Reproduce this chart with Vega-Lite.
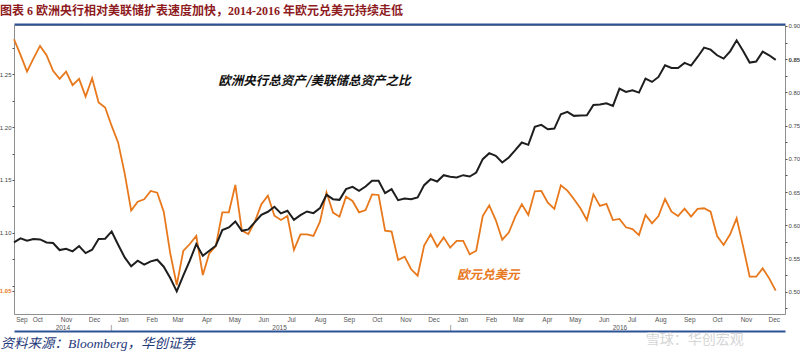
{
  "$schema": "https://vega.github.io/schema/vega-lite/v6.json",
  "width": 771,
  "height": 289,
  "autosize": {"type": "none"},
  "padding": {"left": 14, "top": 25, "right": 15, "bottom": 39},
  "background": "white",
  "title": {
    "text": "图表 6 欧洲央行相对美联储扩表速度加快，2014-2016 年欧元兑美元持续走低",
    "anchor": "start",
    "frame": "group",
    "dx": -14,
    "offset": 5,
    "font": "Liberation Serif, Noto Sans CJK SC",
    "fontSize": 12,
    "fontWeight": "bold",
    "color": "#8E1B1E"
  },
  "datasets": {
    "fx": [
      {"date": "2014-09-19", "eurusd": 1.2831, "ratio": 0.5742},
      {"date": "2014-09-26", "eurusd": 1.2683, "ratio": 0.5802},
      {"date": "2014-10-03", "eurusd": 1.2525, "ratio": 0.5767},
      {"date": "2014-10-10", "eurusd": 1.2651, "ratio": 0.5792},
      {"date": "2014-10-17", "eurusd": 1.2768, "ratio": 0.5787},
      {"date": "2014-10-24", "eurusd": 1.2680, "ratio": 0.5742},
      {"date": "2014-10-31", "eurusd": 1.2532, "ratio": 0.5732},
      {"date": "2014-11-07", "eurusd": 1.2456, "ratio": 0.5627},
      {"date": "2014-11-14", "eurusd": 1.2525, "ratio": 0.5647},
      {"date": "2014-11-21", "eurusd": 1.2396, "ratio": 0.5607},
      {"date": "2014-11-28", "eurusd": 1.2456, "ratio": 0.5687},
      {"date": "2014-12-05", "eurusd": 1.2289, "ratio": 0.5581},
      {"date": "2014-12-12", "eurusd": 1.2462, "ratio": 0.5632},
      {"date": "2014-12-19", "eurusd": 1.2232, "ratio": 0.5792},
      {"date": "2014-12-26", "eurusd": 1.2185, "ratio": 0.5797},
      {"date": "2015-01-02", "eurusd": 1.2011, "ratio": 0.5907},
      {"date": "2015-01-09", "eurusd": 1.1853, "ratio": 0.5707},
      {"date": "2015-01-16", "eurusd": 1.1563, "ratio": 0.5516},
      {"date": "2015-01-23", "eurusd": 1.1210, "ratio": 0.5381},
      {"date": "2015-01-30", "eurusd": 1.1295, "ratio": 0.5466},
      {"date": "2015-02-06", "eurusd": 1.1317, "ratio": 0.5406},
      {"date": "2015-02-13", "eurusd": 1.1396, "ratio": 0.5456},
      {"date": "2015-02-20", "eurusd": 1.1380, "ratio": 0.5481},
      {"date": "2015-02-27", "eurusd": 1.1200, "ratio": 0.5376},
      {"date": "2015-03-06", "eurusd": 1.0806, "ratio": 0.5206},
      {"date": "2015-03-13", "eurusd": 1.0506, "ratio": 0.5005},
      {"date": "2015-03-20", "eurusd": 1.0828, "ratio": 0.5241},
      {"date": "2015-03-27", "eurusd": 1.0894, "ratio": 0.5466},
      {"date": "2015-04-03", "eurusd": 1.0970, "ratio": 0.5717},
      {"date": "2015-04-10", "eurusd": 1.0601, "ratio": 0.5541},
      {"date": "2015-04-17", "eurusd": 1.0806, "ratio": 0.5617},
      {"date": "2015-04-24", "eurusd": 1.0875, "ratio": 0.5692},
      {"date": "2015-05-01", "eurusd": 1.1194, "ratio": 0.5927},
      {"date": "2015-05-08", "eurusd": 1.1194, "ratio": 0.5967},
      {"date": "2015-05-15", "eurusd": 1.1453, "ratio": 0.6058},
      {"date": "2015-05-22", "eurusd": 1.1021, "ratio": 0.5917},
      {"date": "2015-05-29", "eurusd": 1.0989, "ratio": 0.5937},
      {"date": "2015-06-05", "eurusd": 1.1106, "ratio": 0.6048},
      {"date": "2015-06-12", "eurusd": 1.1270, "ratio": 0.6158},
      {"date": "2015-06-19", "eurusd": 1.1352, "ratio": 0.6203},
      {"date": "2015-06-26", "eurusd": 1.1162, "ratio": 0.6278},
      {"date": "2015-07-03", "eurusd": 1.1121, "ratio": 0.6178},
      {"date": "2015-07-10", "eurusd": 1.1159, "ratio": 0.6218},
      {"date": "2015-07-17", "eurusd": 1.0838, "ratio": 0.6083},
      {"date": "2015-07-24", "eurusd": 1.0986, "ratio": 0.6153},
      {"date": "2015-07-31", "eurusd": 1.0986, "ratio": 0.6208},
      {"date": "2015-08-07", "eurusd": 1.0970, "ratio": 0.6183},
      {"date": "2015-08-14", "eurusd": 1.1106, "ratio": 0.6258},
      {"date": "2015-08-21", "eurusd": 1.1383, "ratio": 0.6459},
      {"date": "2015-08-28", "eurusd": 1.1191, "ratio": 0.6393},
      {"date": "2015-09-04", "eurusd": 1.1153, "ratio": 0.6383},
      {"date": "2015-09-11", "eurusd": 1.1342, "ratio": 0.6544},
      {"date": "2015-09-18", "eurusd": 1.1301, "ratio": 0.6579},
      {"date": "2015-09-25", "eurusd": 1.1194, "ratio": 0.6519},
      {"date": "2015-10-02", "eurusd": 1.1216, "ratio": 0.6584},
      {"date": "2015-10-09", "eurusd": 1.1364, "ratio": 0.6669},
      {"date": "2015-10-16", "eurusd": 1.1358, "ratio": 0.6669},
      {"date": "2015-10-23", "eurusd": 1.1021, "ratio": 0.6484},
      {"date": "2015-10-30", "eurusd": 1.1011, "ratio": 0.6544},
      {"date": "2015-11-06", "eurusd": 1.0743, "ratio": 0.6378},
      {"date": "2015-11-13", "eurusd": 1.0774, "ratio": 0.6404},
      {"date": "2015-11-20", "eurusd": 1.0655, "ratio": 0.6393},
      {"date": "2015-11-27", "eurusd": 1.0595, "ratio": 0.6419},
      {"date": "2015-12-04", "eurusd": 1.0879, "ratio": 0.6604},
      {"date": "2015-12-11", "eurusd": 1.0986, "ratio": 0.6694},
      {"date": "2015-12-18", "eurusd": 1.0869, "ratio": 0.6659},
      {"date": "2015-12-25", "eurusd": 1.0957, "ratio": 0.6754},
      {"date": "2016-01-01", "eurusd": 1.0860, "ratio": 0.6729},
      {"date": "2016-01-08", "eurusd": 1.0923, "ratio": 0.6719},
      {"date": "2016-01-15", "eurusd": 1.0923, "ratio": 0.6754},
      {"date": "2016-01-22", "eurusd": 1.0797, "ratio": 0.6734},
      {"date": "2016-01-29", "eurusd": 1.0831, "ratio": 0.6794},
      {"date": "2016-02-05", "eurusd": 1.1159, "ratio": 0.6995},
      {"date": "2016-02-12", "eurusd": 1.1260, "ratio": 0.7085},
      {"date": "2016-02-19", "eurusd": 1.1121, "ratio": 0.7045},
      {"date": "2016-02-26", "eurusd": 1.0935, "ratio": 0.6945},
      {"date": "2016-03-04", "eurusd": 1.1002, "ratio": 0.7020},
      {"date": "2016-03-11", "eurusd": 1.1153, "ratio": 0.7130},
      {"date": "2016-03-18", "eurusd": 1.1270, "ratio": 0.7246},
      {"date": "2016-03-25", "eurusd": 1.1169, "ratio": 0.7211},
      {"date": "2016-04-01", "eurusd": 1.1393, "ratio": 0.7481},
      {"date": "2016-04-08", "eurusd": 1.1396, "ratio": 0.7511},
      {"date": "2016-04-15", "eurusd": 1.1285, "ratio": 0.7446},
      {"date": "2016-04-22", "eurusd": 1.1226, "ratio": 0.7456},
      {"date": "2016-04-29", "eurusd": 1.1450, "ratio": 0.7672},
      {"date": "2016-05-06", "eurusd": 1.1399, "ratio": 0.7707},
      {"date": "2016-05-13", "eurusd": 1.1320, "ratio": 0.7647},
      {"date": "2016-05-20", "eurusd": 1.1232, "ratio": 0.7652},
      {"date": "2016-05-27", "eurusd": 1.1121, "ratio": 0.7657},
      {"date": "2016-06-03", "eurusd": 1.1364, "ratio": 0.7812},
      {"date": "2016-06-10", "eurusd": 1.1254, "ratio": 0.7817},
      {"date": "2016-06-17", "eurusd": 1.1273, "ratio": 0.7837},
      {"date": "2016-06-24", "eurusd": 1.1121, "ratio": 0.7797},
      {"date": "2016-07-01", "eurusd": 1.1131, "ratio": 0.8058},
      {"date": "2016-07-08", "eurusd": 1.1052, "ratio": 0.8008},
      {"date": "2016-07-15", "eurusd": 1.1036, "ratio": 0.8033},
      {"date": "2016-07-22", "eurusd": 1.0979, "ratio": 0.7997},
      {"date": "2016-07-29", "eurusd": 1.1169, "ratio": 0.8208},
      {"date": "2016-08-05", "eurusd": 1.1090, "ratio": 0.8158},
      {"date": "2016-08-12", "eurusd": 1.1159, "ratio": 0.8233},
      {"date": "2016-08-19", "eurusd": 1.1320, "ratio": 0.8409},
      {"date": "2016-08-26", "eurusd": 1.1200, "ratio": 0.8368},
      {"date": "2016-09-02", "eurusd": 1.1159, "ratio": 0.8368},
      {"date": "2016-09-09", "eurusd": 1.1229, "ratio": 0.8444},
      {"date": "2016-09-16", "eurusd": 1.1153, "ratio": 0.8404},
      {"date": "2016-09-23", "eurusd": 1.1226, "ratio": 0.8534},
      {"date": "2016-09-30", "eurusd": 1.1232, "ratio": 0.8674},
      {"date": "2016-10-07", "eurusd": 1.1200, "ratio": 0.8644},
      {"date": "2016-10-14", "eurusd": 1.0970, "ratio": 0.8559},
      {"date": "2016-10-21", "eurusd": 1.0885, "ratio": 0.8509},
      {"date": "2016-10-28", "eurusd": 1.0986, "ratio": 0.8619},
      {"date": "2016-11-04", "eurusd": 1.1137, "ratio": 0.8784},
      {"date": "2016-11-11", "eurusd": 1.0869, "ratio": 0.8624},
      {"date": "2016-11-18", "eurusd": 1.0585, "ratio": 0.8449},
      {"date": "2016-11-25", "eurusd": 1.0585, "ratio": 0.8464},
      {"date": "2016-12-02", "eurusd": 1.0664, "ratio": 0.8614},
      {"date": "2016-12-09", "eurusd": 1.0569, "ratio": 0.8559},
      {"date": "2016-12-16", "eurusd": 1.0453, "ratio": 0.8489}
    ],
    "noteFx": [
      {"date": "2016-02-11", "eurusd": 1.0601, "label": "欧元兑美元"}
    ],
    "noteRatio": [
      {"date": "2015-08-08", "ratio": 0.8172, "label": "欧洲央行总资产/美联储总资产之比"}
    ],
    "watermark": [
      {"date": "2016-09-20", "eurusd": 0.9982, "label": "雪球：华创宏观"}
    ]
  },
  "layer": [
    {
      "data": {"name": "fx"},
      "encoding": {
        "x": {
          "field": "date",
          "type": "temporal",
          "scale": {"domain": [{"year": 2014, "month": 9, "date": 19, "utc": true}, {"year": 2016, "month": 12, "date": 26, "utc": true}]},
          "axis": {
            "orient": "bottom",
            "offset": 17,
            "domainColor": "#2E5395",
            "domainWidth": 2,
            "ticks": false,
            "grid": false,
            "values": [
              {"year": 2014, "month": 9, "date": 27, "utc": true},
              {"year": 2014, "month": 10, "date": 14, "utc": true},
              {"year": 2014, "month": 11, "date": 14, "utc": true},
              {"year": 2014, "month": 12, "date": 14, "utc": true},
              {"year": 2015, "month": 1, "date": 14, "utc": true},
              {"year": 2015, "month": 2, "date": 14, "utc": true},
              {"year": 2015, "month": 3, "date": 14, "utc": true},
              {"year": 2015, "month": 4, "date": 14, "utc": true},
              {"year": 2015, "month": 5, "date": 14, "utc": true},
              {"year": 2015, "month": 6, "date": 14, "utc": true},
              {"year": 2015, "month": 7, "date": 14, "utc": true},
              {"year": 2015, "month": 8, "date": 14, "utc": true},
              {"year": 2015, "month": 9, "date": 14, "utc": true},
              {"year": 2015, "month": 10, "date": 14, "utc": true},
              {"year": 2015, "month": 11, "date": 14, "utc": true},
              {"year": 2015, "month": 12, "date": 14, "utc": true},
              {"year": 2016, "month": 1, "date": 14, "utc": true},
              {"year": 2016, "month": 2, "date": 14, "utc": true},
              {"year": 2016, "month": 3, "date": 14, "utc": true},
              {"year": 2016, "month": 4, "date": 14, "utc": true},
              {"year": 2016, "month": 5, "date": 14, "utc": true},
              {"year": 2016, "month": 6, "date": 14, "utc": true},
              {"year": 2016, "month": 7, "date": 14, "utc": true},
              {"year": 2016, "month": 8, "date": 14, "utc": true},
              {"year": 2016, "month": 9, "date": 14, "utc": true},
              {"year": 2016, "month": 10, "date": 14, "utc": true},
              {"year": 2016, "month": 11, "date": 14, "utc": true},
              {"year": 2016, "month": 12, "date": 14, "utc": true},
              {"year": 2014, "month": 11, "date": 10, "utc": true},
              {"year": 2015, "month": 7, "date": 1, "utc": true},
              {"year": 2016, "month": 7, "date": 1, "utc": true},
              {"year": 2015, "month": 1, "date": 1, "utc": true},
              {"year": 2016, "month": 1, "date": 1, "utc": true}
            ],
            "labelExpr": "(utcdate(datum.value) == 14 || utcdate(datum.value) == 27) ? utcFormat(datum.value, '%b') : (utcmonth(datum.value) == 0 ? ['', '|'] : ['', utcFormat(datum.value, '%Y')])",
            "labelPadding": -15,
            "labelBaseline": "top",
            "labelAlign": "center",
            "labelFontSize": 6.5,
            "labelLineHeight": 8,
            "labelColor": "#555555",
            "labelOverlap": false,
            "labelFlush": false,
            "title": "资料来源：Bloomberg，华创证券",
            "titleAnchor": "start",
            "titleAlign": "left",
            "titleX": -14,
            "titleY": 16,
            "titleBaseline": "alphabetic",
            "titleFont": "Liberation Serif, Noto Sans CJK SC",
            "titleFontSize": 13.5,
            "titleFontStyle": "italic",
            "titleFontWeight": "normal",
            "titleColor": "#1F3A7A"
          }
        },
        "y": {
          "field": "eurusd",
          "type": "quantitative",
          "scale": {"domain": [1.0232, 1.2966], "nice": false, "zero": false},
          "axis": {
            "orient": "left",
            "title": null,
            "grid": false,
            "domain": false,
            "values": [1.0453, 1.05, 1.075, 1.1, 1.125, 1.15, 1.175, 1.2, 1.225, 1.25, 1.275],
            "labelExpr": "datum.value < 1.048 ? '1.05' : ((abs(datum.value * 20 - round(datum.value * 20)) < 0.01 && datum.value > 1.06) ? format(datum.value, '.2f') : '')",
            "tickSize": 2,
            "tickColor": "#555555",
            "labelPadding": 1,
            "labelFontSize": 6,
            "labelColor": {"condition": {"test": "datum.value < 1.048", "value": "#E8781C"}, "value": "#444444"},
            "labelFontWeight": {"condition": {"test": "datum.value < 1.048", "value": "bold"}, "value": "normal"},
            "labelOverlap": false
          }
        }
      },
      "layer": [
        {"mark": {"type": "line", "color": "#E8781C", "strokeWidth": 1.8}},
        {
          "data": {"name": "noteFx"},
          "mark": {"type": "text", "font": "Noto Sans CJK SC", "fontSize": 12.5, "fontWeight": "bold", "fontStyle": "italic", "color": "#E8781C", "align": "center", "baseline": "middle"},
          "encoding": {"text": {"field": "label"}}
        },
        {
          "data": {"name": "watermark"},
          "mark": {"type": "text", "font": "Noto Sans CJK SC", "fontSize": 14, "color": "#cfcfcf", "opacity": 0.85, "align": "center", "baseline": "middle"},
          "encoding": {"text": {"field": "label"}}
        }
      ]
    },
    {
      "data": {"name": "fx"},
      "encoding": {
        "x": {
          "field": "date",
          "type": "temporal",
          "scale": {"domain": [{"year": 2014, "month": 9, "date": 19, "utc": true}, {"year": 2016, "month": 12, "date": 26, "utc": true}]},
          "axis": {
            "orient": "top",
            "offset": 1,
            "labels": false,
            "ticks": false,
            "grid": false,
            "title": null,
            "domainColor": "#2E5395",
            "domainWidth": 2
          }
        },
        "y": {
          "field": "ratio",
          "type": "quantitative",
          "scale": {"domain": [0.4664, 0.9015], "nice": false, "zero": false},
          "axis": {
            "orient": "right",
            "title": null,
            "grid": false,
            "domain": false,
            "values": [0.475, 0.5, 0.525, 0.55, 0.575, 0.6, 0.625, 0.65, 0.675, 0.7, 0.725, 0.75, 0.775, 0.8, 0.825, 0.85, 0.875, 0.9],
            "labelExpr": "abs(datum.value * 20 - round(datum.value * 20)) < 0.01 ? format(datum.value, '.2f') : ''",
            "tickSize": 2,
            "tickColor": "#555555",
            "labelPadding": 1,
            "labelFontSize": 6,
            "labelColor": "#444444",
            "labelFontWeight": {"condition": {"test": "abs(datum.value - 0.85) < 0.001", "value": "bold"}, "value": "normal"},
            "labelOverlap": false
          }
        }
      },
      "layer": [
        {"mark": {"type": "line", "color": "#1E1E1E", "strokeWidth": 2}},
        {
          "data": {"name": "noteRatio"},
          "mark": {"type": "text", "font": "Noto Sans CJK SC", "fontSize": 12.5, "fontWeight": "bold", "fontStyle": "italic", "color": "#111111", "align": "center", "baseline": "middle"},
          "encoding": {"text": {"field": "label"}}
        }
      ]
    }
  ],
  "resolve": {"scale": {"y": "independent"}, "axis": {"x": "independent", "y": "independent"}},
  "config": {
    "view": {"stroke": "#8f8f8f", "strokeWidth": 1},
    "font": "Liberation Sans",
    "axis": {"grid": false}
  }
}
